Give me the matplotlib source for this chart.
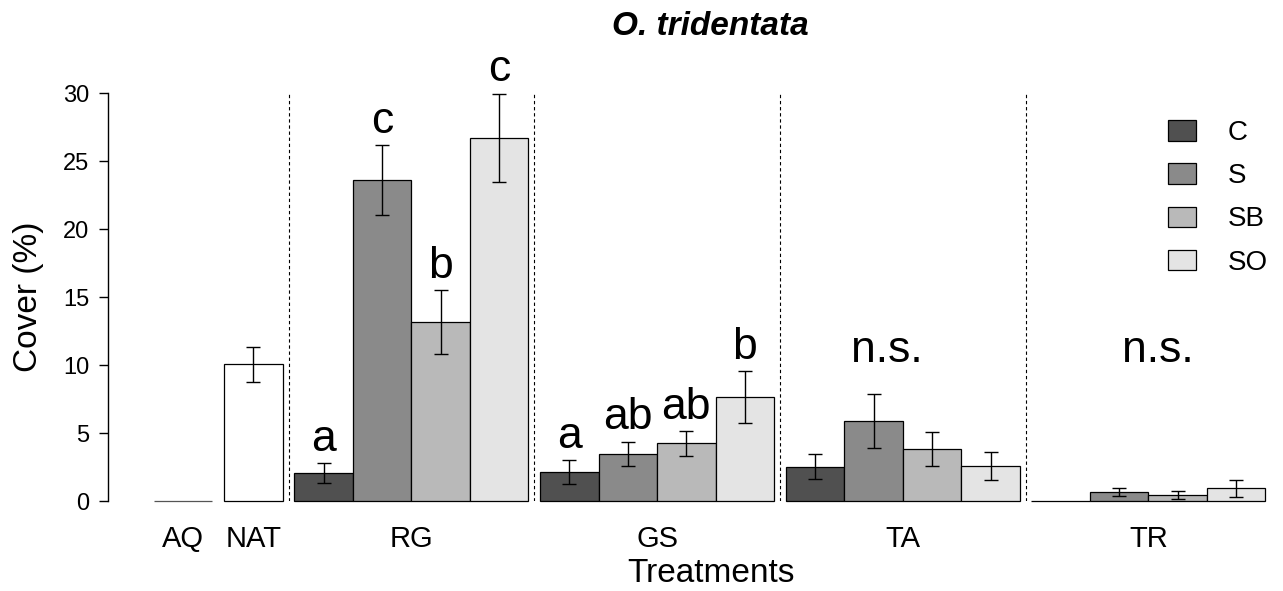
import matplotlib
matplotlib.use("Agg")
import matplotlib.pyplot as plt
from matplotlib.patches import Patch
import numpy as np

plt.rcParams['font.family'] = ['Liberation Sans', 'DejaVu Sans']

# ---- data ----
single_names = ["AQ", "NAT"]
single_means = [0.0, 10.05]
single_se = [0.0, 1.28]

groups = ["RG", "GS", "TA", "TR"]
series = ["C", "S", "SB", "SO"]
means = {
    "RG": [2.04, 23.6, 13.14, 26.7],
    "GS": [2.11, 3.46, 4.24, 7.62],
    "TA": [2.52, 5.9, 3.82, 2.6],
    "TR": [0.0, 0.64, 0.44, 0.93],
}
se = {
    "RG": [0.73, 2.54, 2.35, 3.24],
    "GS": [0.87, 0.90, 0.90, 1.91],
    "TA": [0.90, 2.00, 1.22, 1.03],
    "TR": [0.0, 0.28, 0.27, 0.60],
}
letters = {
    "RG": ["a", "c", "b", "c"],
    "GS": ["a", "ab", "ab", "b"],
}
ns_groups = ["TA", "TR"]

series_colors = ["#505050", "#8a8a8a", "#b9b9b9", "#e4e4e4"]

# ---- layout ----
W, H = 1283, 591
fig = plt.figure(figsize=(W / 100, H / 100), dpi=100)
ax = fig.add_axes([108 / W, 1 - 501 / H, (W - 108) / W, (501 - 93) / H])

space = 0.2
ns_x_offset = {"TA": 1.73, "TR": 2.16}
err_kw = dict(fmt="none", ecolor="black", elinewidth=1.0, capsize=5, capthick=1.0, zorder=4)

# single bars
xs_single = [0.0, 1.0 + space]
for x, m, s in zip(xs_single, single_means, single_se):
    ax.bar(x, m, width=1.0, align="edge", color="white",
           edgecolor="black" if m > 0 else "#555555", linewidth=0.9, clip_on=False, zorder=3)
    if s > 0:
        ax.errorbar(x + 0.5, m, yerr=s, **err_kw)

tick_pos = [x + 0.5 for x in xs_single]
tick_lab = list(single_names)
dividers = []

start = xs_single[-1] + 1.0 + space
for g in groups:
    dividers.append(start - space / 2)
    xs = start + np.arange(4)
    ax.bar(xs, means[g], width=1.0, align="edge", color=series_colors,
           edgecolor="black", linewidth=0.9, clip_on=False, zorder=3)
    for i in range(4):
        if se[g][i] > 0:
            ax.errorbar(xs[i] + 0.5, means[g][i], yerr=se[g][i], **err_kw)
    if g in letters:
        for i in range(4):
            ax.annotate(letters[g][i], (xs[i] + 0.5, means[g][i] + se[g][i]),
                        xytext=(0, 9), textcoords="offset points",
                        ha="center", va="baseline", fontsize=32, annotation_clip=False)
    if g in ns_groups:
        ax.text(start + ns_x_offset[g], 10.2, "n.s.", ha="center", va="baseline", fontsize=32)
    tick_pos.append(start + 2.0)
    tick_lab.append(g)
    start += 4.0 + space

ax.vlines(dividers, 0, 30, colors="black", linestyles=(0, (3, 2.5)), linewidth=0.8, zorder=2)

ax.set_xlim(-0.786, 19.3)
ax.set_ylim(0, 30)

for sp in ["top", "right", "bottom"]:
    ax.spines[sp].set_visible(False)
ax.spines["left"].set_bounds(0, 30)
ax.spines["left"].set_linewidth(1.0)

ax.set_yticks([0, 5, 10, 15, 20, 25, 30])
ax.tick_params(axis="y", direction="out", length=6.5, width=1.0, pad=7, labelsize=17)
ax.set_xticks(tick_pos)
ax.set_xticklabels(tick_lab, fontsize=21)
ax.tick_params(axis="x", length=0, pad=17)

ax.set_ylabel("Cover (%)", fontsize=24, labelpad=14)
ax.set_xlabel("Treatments", fontsize=24, labelpad=4)
ax.xaxis.label.set_x(0.513)
ax.set_title("O. tridentata", fontsize=24, fontweight="bold", fontstyle="italic",
             pad=42, x=0.513)

handles = [Patch(facecolor=c, edgecolor="black", linewidth=0.9) for c in series_colors]
ax.legend(handles, series, loc="upper left", bbox_to_anchor=(1168 / W, 1 - 120 / H),
          bbox_transform=fig.transFigure, frameon=False, fontsize=20,
          handlelength=1.0, handleheight=0.76, labelspacing=0.62, handletextpad=1.15,
          borderpad=0, borderaxespad=0)

fig.savefig("out.png", dpi=100)
